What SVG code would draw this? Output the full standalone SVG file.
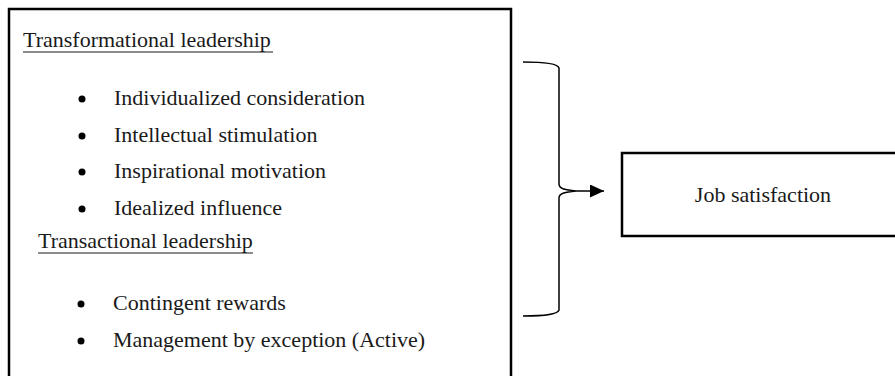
<svg xmlns="http://www.w3.org/2000/svg" width="895" height="376" viewBox="0 0 895 376">
<defs>
<style>
.t{font-family:"Liberation Serif","Times New Roman",serif;font-size:22px;fill:#1a1a1a;}
.box{fill:#fff;stroke:#000;stroke-width:2.5;}
.ul{stroke:#1a1a1a;stroke-width:1.2;}
.conn{fill:none;stroke:#000;stroke-width:1.5;}
</style>
<marker id="ah" markerWidth="14" markerHeight="13" refX="14" refY="6.5" orient="auto" markerUnits="userSpaceOnUse" viewBox="0 0 14 13">
<path d="M0,0 L14,6.5 L0,13 Z" fill="#000"/>
</marker>
</defs>
<rect width="895" height="376" fill="#fff"/>
<g id="leadership">
<rect class="box" x="9" y="9" width="502" height="400"/>
<text class="t" x="23" y="47">Transformational leadership</text>
<line class="ul" x1="23" y1="52" x2="273" y2="52"/>
<circle cx="82" cy="99" r="3.5"/>
<text class="t" x="114" y="105">Individualized consideration</text>
<circle cx="82" cy="136" r="3.5"/>
<text class="t" x="114" y="142">Intellectual stimulation</text>
<circle cx="82" cy="172" r="3.5"/>
<text class="t" x="114" y="178">Inspirational motivation</text>
<circle cx="82" cy="209" r="3.5"/>
<text class="t" x="114" y="215">Idealized influence</text>
<text class="t" x="38" y="248">Transactional leadership</text>
<line class="ul" x1="38" y1="253" x2="253" y2="253"/>
<circle cx="81" cy="304" r="3.5"/>
<text class="t" x="113" y="310">Contingent rewards</text>
<circle cx="81" cy="341" r="3.5"/>
<text class="t" x="113" y="347">Management by exception (Active)</text>
</g>
<g id="job">
<rect class="box" x="622" y="153" width="300" height="83"/>
<text class="t" x="763" y="202" text-anchor="middle">Job satisfaction</text>
</g>
<g id="connectors">
<path class="conn" d="M523,62 C545,62 558,64 559,68 L559,184 C559,189 566,190 576,191 C566,192 559,193 559,198 L559,310 C558,314 545,316 523,316"/>
<path class="conn" d="M576,191 L604,191" marker-end="url(#ah)"/>
</g>
</svg>
